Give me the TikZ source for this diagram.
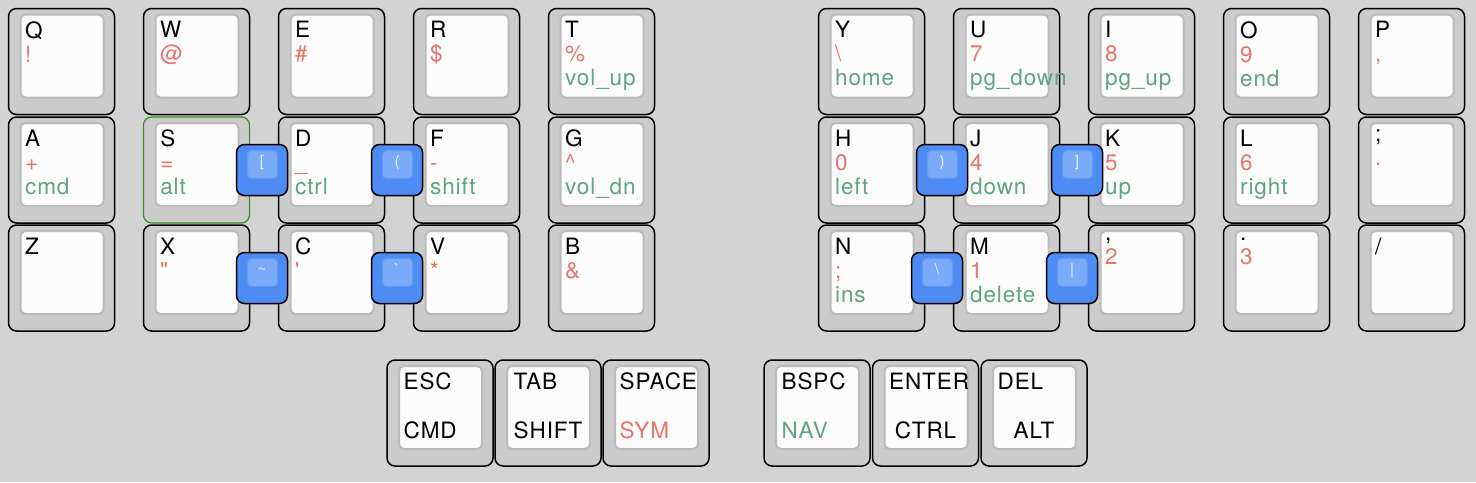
\documentclass[tikz,border=0pt]{standalone}
\usepackage{fontspec}
\usepackage{xcolor}
\usepackage{tikz}
\usetikzlibrary{positioning}
\newfontfamily\kbdfont{TeX Gyre Heros}[LetterSpace=4]
\definecolor{kbdbg}{HTML}{D3D3D3}
\definecolor{kbdcap}{HTML}{CCCCCC}
\definecolor{kbdface}{HTML}{FCFCFC}
\definecolor{kbdrim}{HTML}{BBBBBB}
\definecolor{kbdred}{HTML}{E8736B}
\definecolor{kbdgreen}{HTML}{5FA482}
\definecolor{kbdsel}{HTML}{3C8A28}
\definecolor{kbdblue}{HTML}{4D8BF5}
\definecolor{kbdsky}{HTML}{7AAAF8}
\definecolor{kbdskyrim}{HTML}{6499F0}
\definecolor{kbdpale}{HTML}{F2F6FF}
\tikzset{
  keycap/.style={draw=black, line width=0.75pt, fill=kbdcap, rounded corners=4pt,
                 minimum width=53pt, minimum height=53pt, inner sep=0pt,
                 path picture={\draw[draw=kbdrim, line width=1pt, fill=kbdface, rounded corners=2.5pt]
                   ([shift={(12,6)}]path picture bounding box.north west) rectangle
                   ([shift={(-11,-17)}]path picture bounding box.south east);}},
  keylegend/.style={align=left, inner sep=0pt, execute at begin node=\strut,
                    font={\kbdfont\fontsize{11.25pt}{12pt}\selectfont}},
  holdlabel/.style={keylegend, anchor=base},
  combo/.style={draw=black, line width=0.75pt, fill=kbdblue, rounded corners=4pt,
                minimum width=25.5pt, minimum height=25.5pt, inner sep=0pt,
                text=kbdpale, font={\kbdfont\fontsize{7.5pt}{8pt}\selectfont},
                text height=4pt, text depth=7.5pt,
                path picture={\draw[draw=kbdskyrim, line width=0.6pt, fill=kbdsky, rounded corners=2pt]
                   ([shift={(11,6)}]path picture bounding box.north west) rectangle
                   ([shift={(-10,-17)}]path picture bounding box.south east);}}
}

\begin{document}
\begin{tikzpicture}[x=0.5pt, y=-0.5pt]
  \useasboundingbox[fill=kbdbg] (0,0) rectangle (1476,482);

  % left half
  \node[keycap] (q) at (61.5,61.5) {};
  \node[keycap] (w) at (196.5,61.5) {};
  \node[keycap] (e) at (331.5,61.5) {};
  \node[keycap] (r) at (466.5,61.5) {};
  \node[keycap] (t) at (601.5,61.5) {};
  \node[keycap] (a) at (61.5,170) {};
  \node[keycap, draw=kbdsel, line width=0.6pt] (s) at (196.5,170) {};
  \node[keycap] (d) at (331.5,170) {};
  \node[keycap] (f) at (466.5,170) {};
  \node[keycap] (g) at (601.5,170) {};
  \node[keycap] (z) at (61.5,278) {};
  \node[keycap] (x) at (196.5,278) {};
  \node[keycap] (c) at (331.5,278) {};
  \node[keycap] (v) at (466.5,278) {};
  \node[keycap] (b) at (601.5,278) {};

  % right half
  \node[keycap] (y) at (871.5,61.5) {};
  \node[keycap] (u) at (1006.5,61.5) {};
  \node[keycap] (i) at (1141.5,61.5) {};
  \node[keycap] (o) at (1276.5,61.5) {};
  \node[keycap] (p) at (1411.5,61.5) {};
  \node[keycap] (h) at (871.5,170) {};
  \node[keycap] (j) at (1006.5,170) {};
  \node[keycap] (k) at (1141.5,170) {};
  \node[keycap] (l) at (1276.5,170) {};
  \node[keycap] (semi) at (1411.5,170) {};
  \node[keycap] (n) at (871.5,278) {};
  \node[keycap] (m) at (1006.5,278) {};
  \node[keycap] (comma) at (1141.5,278) {};
  \node[keycap] (dot) at (1276.5,278) {};
  \node[keycap] (slash) at (1411.5,278) {};

  % thumbs
  \node[keycap] (esc) at (440,413) {};
  \node[keycap] (tab) at (548,413) {};
  \node[keycap] (space) at (656,413) {};
  \node[keycap] (bspc) at (817,413) {};
  \node[keycap] (enter) at (925.5,413) {};
  \node[keycap] (del) at (1034,413) {};

  % legends
  \node[keylegend, below right=6.6pt and 8.5pt of q.north west] (q-lbl) {Q\\\textcolor{kbdred}{!}};
  \node[keylegend, below right=6.6pt and 8.5pt of w.north west] (w-lbl) {W\\\textcolor{kbdred}{@}};
  \node[keylegend, below right=6.6pt and 8.5pt of e.north west] (e-lbl) {E\\\textcolor{kbdred}{\#}};
  \node[keylegend, below right=6.6pt and 8.5pt of r.north west] (r-lbl) {R\\\textcolor{kbdred}{\$}};
  \node[keylegend, below right=6.6pt and 8.5pt of t.north west] (t-lbl) {T\\\textcolor{kbdred}{\%}\\\textcolor{kbdgreen}{vol\_up}};
  \node[keylegend, below right=6.6pt and 8.5pt of a.north west] (a-lbl) {A\\\textcolor{kbdred}{+}\\\textcolor{kbdgreen}{cmd}};
  \node[keylegend, below right=6.6pt and 8.5pt of s.north west] (s-lbl) {S\\\textcolor{kbdred}{=}\\\textcolor{kbdgreen}{alt}};
  \node[keylegend, below right=6.6pt and 8.5pt of d.north west] (d-lbl) {D\\\textcolor{kbdred}{\_}\\\textcolor{kbdgreen}{ctrl}};
  \node[keylegend, below right=6.6pt and 8.5pt of f.north west] (f-lbl) {F\\\textcolor{kbdred}{-}\\\textcolor{kbdgreen}{shift}};
  \node[keylegend, below right=6.6pt and 8.5pt of g.north west] (g-lbl) {G\\\textcolor{kbdred}{\textasciicircum}\\\textcolor{kbdgreen}{vol\_dn}};
  \node[keylegend, below right=6.6pt and 8.5pt of z.north west] (z-lbl) {Z};
  \node[keylegend, below right=6.6pt and 8.5pt of x.north west] (x-lbl) {X\\\textcolor{kbdred}{"}};
  \node[keylegend, below right=6.6pt and 8.5pt of c.north west] (c-lbl) {C\\\textcolor{kbdred}{'}};
  \node[keylegend, below right=6.6pt and 8.5pt of v.north west] (v-lbl) {V\\\textcolor{kbdred}{*}};
  \node[keylegend, below right=6.6pt and 8.5pt of b.north west] (b-lbl) {B\\\textcolor{kbdred}{\&}};
  \node[keylegend, below right=6.6pt and 8.5pt of y.north west] (y-lbl) {Y\\\textcolor{kbdred}{\textbackslash}\\\textcolor{kbdgreen}{home}};
  \node[keylegend, below right=6.6pt and 8.5pt of u.north west] (u-lbl) {U\\\textcolor{kbdred}{7}\\\textcolor{kbdgreen}{pg\_down}};
  \node[keylegend, below right=6.6pt and 8.5pt of i.north west] (i-lbl) {I\\\textcolor{kbdred}{8}\\\textcolor{kbdgreen}{pg\_up}};
  \node[keylegend, below right=6.6pt and 8.5pt of o.north west] (o-lbl) {O\\\textcolor{kbdred}{9}\\\textcolor{kbdgreen}{end}};
  \node[keylegend, below right=6.6pt and 8.5pt of p.north west] (p-lbl) {P\\\textcolor{kbdred}{,}};
  \node[keylegend, below right=6.6pt and 8.5pt of h.north west] (h-lbl) {H\\\textcolor{kbdred}{0}\\\textcolor{kbdgreen}{left}};
  \node[keylegend, below right=6.6pt and 8.5pt of j.north west] (j-lbl) {J\\\textcolor{kbdred}{4}\\\textcolor{kbdgreen}{down}};
  \node[keylegend, below right=6.6pt and 8.5pt of k.north west] (k-lbl) {K\\\textcolor{kbdred}{5}\\\textcolor{kbdgreen}{up}};
  \node[keylegend, below right=6.6pt and 8.5pt of l.north west] (l-lbl) {L\\\textcolor{kbdred}{6}\\\textcolor{kbdgreen}{right}};
  \node[keylegend, below right=6.6pt and 8.5pt of semi.north west] (semi-lbl) {;\\\textcolor{kbdred}{.}};
  \node[keylegend, below right=6.6pt and 8.5pt of n.north west] (n-lbl) {N\\\textcolor{kbdred}{;}\\\textcolor{kbdgreen}{ins}};
  \node[keylegend, below right=6.6pt and 8.5pt of m.north west] (m-lbl) {M\\\textcolor{kbdred}{1}\\\textcolor{kbdgreen}{delete}};
  \node[keylegend, below right=6.6pt and 8.5pt of comma.north west] (comma-lbl) {,\\\textcolor{kbdred}{2}};
  \node[keylegend, below right=6.6pt and 8.5pt of dot.north west] (dot-lbl) {.\\\textcolor{kbdred}{3}};
  \node[keylegend, below right=6.6pt and 8.5pt of slash.north west] (slash-lbl) {/};

  \node[keylegend, below right=6.6pt and 8.5pt of esc.north west] (esc-lbl) {ESC};
  \node[holdlabel, anchor=base west] (esc-hold) at ([xshift=8.5pt, yshift=-12.5pt]esc.west) {CMD};
  \node[keylegend, below right=6.6pt and 9.5pt of tab.north west] (tab-lbl) {TAB};
  \node[holdlabel] (tab-hold) at ([yshift=-12.5pt]tab.center) {SHIFT};
  \node[keylegend, below right=6.6pt and 8.5pt of space.north west] (space-lbl) {SPACE};
  \node[holdlabel, anchor=base west] (space-hold) at ([xshift=8.5pt, yshift=-12.5pt]space.west) {\textcolor{kbdred}{SYM}};
  \node[keylegend, below right=6.6pt and 9pt of bspc.north west] (bspc-lbl) {BSPC};
  \node[holdlabel, anchor=base west] (bspc-hold) at ([xshift=9pt, yshift=-12.5pt]bspc.west) {\textcolor{kbdgreen}{NAV}};
  \node[keylegend, below right=6.6pt and 8.5pt of enter.north west] (enter-lbl) {ENTER};
  \node[holdlabel] (enter-hold) at ([yshift=-12.5pt]enter.center) {CTRL};
  \node[keylegend, below right=6.6pt and 8.5pt of del.north west] (del-lbl) {DEL};
  \node[holdlabel] (del-hold) at ([yshift=-12.5pt]del.center) {ALT};

  % combos
  \node[combo] (lbrkt) at (262,170) {[};
  \node[combo] (lparen) at (397,170) {(};
  \node[combo] (tilde) at (262,278) {\textasciitilde};
  \node[combo] (grave) at (397,278) {`};
  \node[combo] (rparen) at (942,170) {)};
  \node[combo] (rbrkt) at (1077,170) {]};
  \node[combo] (bslash) at (937,278) {\textbackslash};
  \node[combo] (pipe) at (1072,278) {|};
\end{tikzpicture}
\end{document}
